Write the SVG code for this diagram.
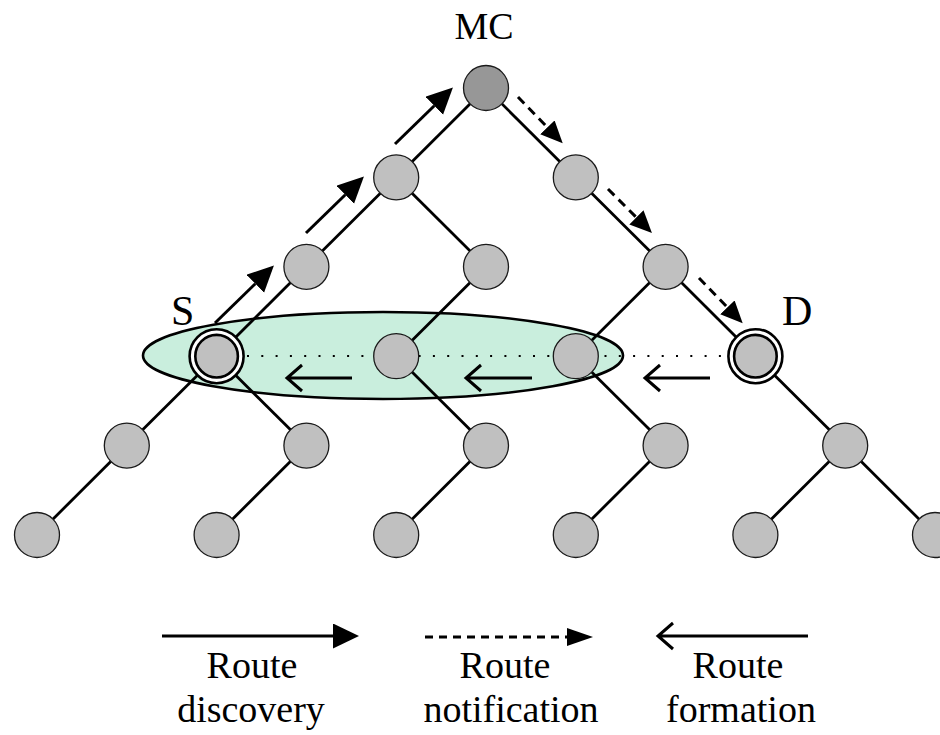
<svg xmlns="http://www.w3.org/2000/svg" width="940" height="735" viewBox="0 0 940 735">
<style>
.edge{stroke:#000;stroke-width:2.8;fill:none}
.node{fill:#c0c0c0;stroke:#1a1a1a;stroke-width:1.3}
.mc{fill:#979797;stroke:#1a1a1a;stroke-width:1.3}
.ring{fill:#fff;stroke:#000;stroke-width:2.6}
.inner{fill:#c0c0c0;stroke:#000;stroke-width:2.6}
.disc{stroke:#000;stroke-width:3;fill:none;marker-end:url(#solidHead)}
.notif{stroke:#000;stroke-width:3;fill:none;stroke-dasharray:9 6;marker-end:url(#dashHead)}
.form{stroke:#000;stroke-width:3;fill:none}
.dots{stroke:#000;stroke-width:2;stroke-dasharray:2 12.3;fill:none}
text{font-family:"Liberation Serif","Times New Roman",serif;fill:#000}
.lbl{font-size:38px;text-anchor:middle}
</style>
<defs>
<marker id="solidHead" markerUnits="userSpaceOnUse" markerWidth="27" markerHeight="26" refX="0" refY="12.5" orient="auto" viewBox="0 0 27 26">
<path d="M0,0 L26,12.5 L0,25 Z" fill="#000"/>
</marker>
<marker id="dashHead" markerUnits="userSpaceOnUse" markerWidth="23" markerHeight="21" refX="0" refY="10" orient="auto" viewBox="0 0 23 21">
<path d="M0,0 L22,10 L0,20 Z" fill="#000"/>
</marker>
<marker id="legendDashHead" markerUnits="userSpaceOnUse" markerWidth="27" markerHeight="19" refX="0" refY="9" orient="auto" viewBox="0 0 27 19">
<path d="M0,0 L26,9 L0,18 Z" fill="#000"/>
</marker>
</defs>

<g id="region">
<ellipse cx="383" cy="355.5" rx="240" ry="43.5" fill="#c9eedd" stroke="#000" stroke-width="2.6"/>
</g>

<g id="connectors">
<line class="edge" x1="486" y1="88" x2="396.2" y2="177.4"/>
<line class="edge" x1="486" y1="88" x2="575.8" y2="177.4"/>
<line class="edge" x1="396.2" y1="177.4" x2="306.4" y2="266.8"/>
<line class="edge" x1="396.2" y1="177.4" x2="486" y2="266.8"/>
<line class="edge" x1="575.8" y1="177.4" x2="665.6" y2="266.8"/>
<line class="edge" x1="306.4" y1="266.8" x2="216.6" y2="356.2"/>
<line class="edge" x1="486" y1="266.8" x2="396.2" y2="356.2"/>
<line class="edge" x1="665.6" y1="266.8" x2="575.8" y2="356.2"/>
<line class="edge" x1="665.6" y1="266.8" x2="755.4" y2="356.2"/>
<line class="edge" x1="216.6" y1="356.2" x2="126.8" y2="445.6"/>
<line class="edge" x1="216.6" y1="356.2" x2="306.4" y2="445.6"/>
<line class="edge" x1="396.2" y1="356.2" x2="486" y2="445.6"/>
<line class="edge" x1="575.8" y1="356.2" x2="665.6" y2="445.6"/>
<line class="edge" x1="755.4" y1="356.2" x2="845.2" y2="445.6"/>
<line class="edge" x1="126.8" y1="445.6" x2="37" y2="535"/>
<line class="edge" x1="306.4" y1="445.6" x2="216.6" y2="535"/>
<line class="edge" x1="486" y1="445.6" x2="396.2" y2="535"/>
<line class="edge" x1="665.6" y1="445.6" x2="575.8" y2="535"/>
<line class="edge" x1="845.2" y1="445.6" x2="755.4" y2="535"/>
<line class="edge" x1="845.2" y1="445.6" x2="935" y2="535"/>

<line class="dots" x1="247" y1="356" x2="728" y2="356"/>

<line class="disc" x1="215" y1="323" x2="255.3" y2="283.7"/>
<line class="disc" x1="306" y1="233" x2="345.3" y2="194.7"/>
<line class="disc" x1="395" y1="144" x2="434.3" y2="105.7"/>

<line class="notif" x1="518" y1="97" x2="547.4" y2="127.4"/>
<line class="notif" x1="608" y1="189" x2="636.4" y2="217.4"/>
<line class="notif" x1="699" y1="278" x2="727.4" y2="307.4"/>

<path class="form" d="M352,378 L287,378 M302,365 L287,378 L302,391"/>
<path class="form" d="M532,378 L466,378 M481,365 L466,378 L481,391"/>
<path class="form" d="M710,378 L645,378 M660,365 L645,378 L660,391"/>
</g>

<g id="node-MC"><circle class="mc" cx="486" cy="88" r="22.5"/></g>
<g id="node-1a"><circle class="node" cx="396.2" cy="177.4" r="22.5"/></g>
<g id="node-1b"><circle class="node" cx="575.8" cy="177.4" r="22.5"/></g>
<g id="node-2a"><circle class="node" cx="306.4" cy="266.8" r="22.5"/></g>
<g id="node-2b"><circle class="node" cx="486" cy="266.8" r="22.5"/></g>
<g id="node-2c"><circle class="node" cx="665.6" cy="266.8" r="22.5"/></g>
<g id="node-S"><circle class="ring" cx="216.6" cy="356.2" r="27"/><circle class="inner" cx="216.6" cy="356.2" r="21.3"/></g>
<g id="node-3b"><circle class="node" cx="396.2" cy="356.2" r="22.5"/></g>
<g id="node-3c"><circle class="node" cx="575.8" cy="356.2" r="22.5"/></g>
<g id="node-D"><circle class="ring" cx="755.4" cy="356.2" r="27"/><circle class="inner" cx="755.4" cy="356.2" r="21.3"/></g>
<g id="node-4a"><circle class="node" cx="126.8" cy="445.6" r="22.5"/></g>
<g id="node-4b"><circle class="node" cx="306.4" cy="445.6" r="22.5"/></g>
<g id="node-4c"><circle class="node" cx="486" cy="445.6" r="22.5"/></g>
<g id="node-4d"><circle class="node" cx="665.6" cy="445.6" r="22.5"/></g>
<g id="node-4e"><circle class="node" cx="845.2" cy="445.6" r="22.5"/></g>
<g id="node-5a"><circle class="node" cx="37" cy="535" r="22.5"/></g>
<g id="node-5b"><circle class="node" cx="216.6" cy="535" r="22.5"/></g>
<g id="node-5c"><circle class="node" cx="396.2" cy="535" r="22.5"/></g>
<g id="node-5d"><circle class="node" cx="575.8" cy="535" r="22.5"/></g>
<g id="node-5e"><circle class="node" cx="755.4" cy="535" r="22.5"/></g>
<g id="node-5f"><circle class="node" cx="935" cy="535" r="22.5"/></g>

<g id="labels">
<text class="lbl" x="484" y="39">MC</text>
<text x="171" y="325" font-size="42">S</text>
<text x="782" y="325" font-size="42">D</text>
</g>

<g id="legend">
<line class="form" x1="162" y1="636" x2="333" y2="636" marker-end="url(#solidHead)"/>
<line x1="425" y1="637" x2="567" y2="637" stroke="#000" stroke-width="3" stroke-dasharray="8 6" marker-end="url(#legendDashHead)"/>
<path class="form" d="M808,636 L658,636 M673,623 L658,636 L673,649"/>
<text class="lbl" x="252" y="678">Route</text>
<text class="lbl" x="251" y="722">discovery</text>
<text class="lbl" x="505" y="678">Route</text>
<text class="lbl" x="511" y="722">notification</text>
<text class="lbl" x="738" y="678">Route</text>
<text class="lbl" x="741" y="722">formation</text>
</g>
</svg>
